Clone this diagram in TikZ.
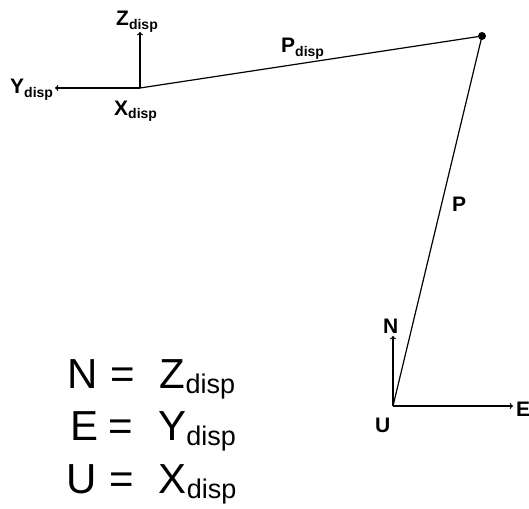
\documentclass[tikz,border=0pt]{standalone}
\usepackage{fontspec}
\setmainfont{Liberation Sans}
\newcommand{\lsub}[1]{\raisebox{-0.15em}{\fontsize{14}{15}\selectfont #1}}
\newcommand{\bigsub}[1]{\raisebox{-0.13em}{\fontsize{27}{30}\selectfont #1}}
\tikzset{
  lbl/.style={font=\bfseries\fontsize{21}{23}\selectfont, anchor=base west, inner sep=0pt},
  eqn/.style={font=\fontsize{42}{44}\selectfont, anchor=base west, inner sep=0pt},
  axis/.style={->, line width=1.2pt},
  leg/.style={line width=1.2pt}
}
\begin{document}
\begin{tikzpicture}[x=1pt, y=-1pt]
  \useasboundingbox (0,0) rectangle (529,508);
  % Displacement frame
  \coordinate (O) at (140,88);
  \coordinate (zd) at (140,32);
  \coordinate (yd) at (55,88);
  \draw[axis] (O) -- (zd);
  \draw[axis] (O) -- (yd);
  \node[lbl] (zlab) at (116,26) {Z\lsub{disp}};
  \node[lbl] (ylab) at (10,94) {Y\lsub{disp}};
  \node[lbl] (xlab) at (114,115) {X\lsub{disp}};
  % Target point
  \coordinate (T) at (482,36);
  \fill (T) circle (4pt);
  % Local ENU frame
  \coordinate (U) at (393,406);
  \coordinate (nd) at (393,336);
  \coordinate (ed) at (513,406);
  \draw[axis] (U) -- (nd);
  \draw[axis] (U) -- (ed);
  \node[lbl] (nlab) at (383,333) {N};
  \node[lbl] (ulab) at (375,432) {U};
  \node[lbl] (elab) at (516,416) {E};
  % Position vectors
  \draw[leg] (O) -- (T);
  \draw[leg] (U) -- (T);
  \node[lbl] (pdlab) at (281,53) {P\lsub{disp}};
  \node[lbl] (plab) at (452,211) {P};
  % Correspondence
  \node[eqn] (eq1) at (67,388) {N\hspace{0.3em}=\hspace{0.6em}Z\bigsub{disp}};
  \node[eqn] (eq2) at (70,440) {E\hspace{0.25em}=\hspace{0.6em}Y\bigsub{disp}};
  \node[eqn] (eq3) at (66,493) {U\hspace{0.3em}=\hspace{0.6em}X\bigsub{disp}};
\end{tikzpicture}
\end{document}
